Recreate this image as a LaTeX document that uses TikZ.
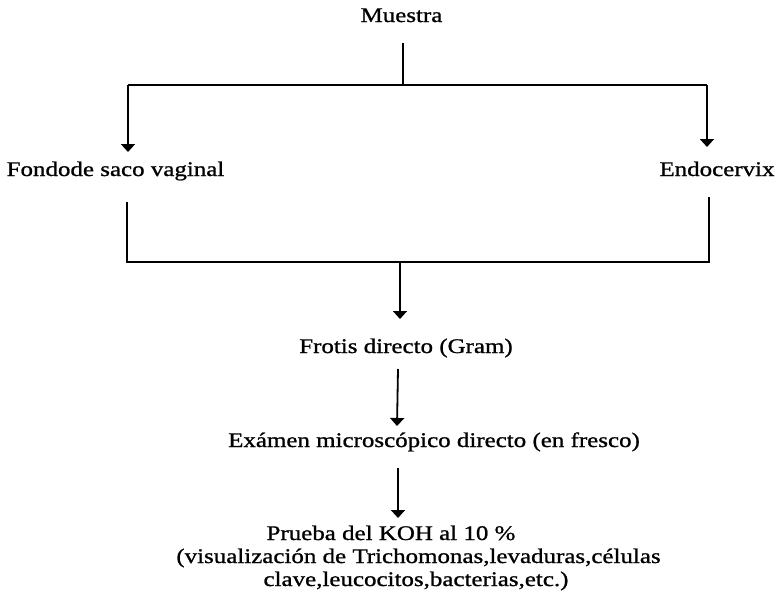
\documentclass[tikz,border=0pt]{standalone}
\usepackage{fontspec}
\setmainfont{Liberation Serif}[FakeStretch=1.2,FakeBold=1]
\usetikzlibrary{arrows.meta}
\begin{document}
\begin{tikzpicture}[x=1pt,y=-1pt,
  lbl/.style={anchor=base,inner sep=0pt,font=\fontsize{20.8}{25}\selectfont},
  conn/.style={line width=1.6pt},
  arr/.style={line width=1.8pt,-{Triangle[width=14pt,length=8pt]}}]
\useasboundingbox (0,0) rectangle (777,606);
% texts
\node[lbl] (muestra) at (401.5,22) {Muestra};
\node[lbl] (fondo) at (115.5,176) {Fondode saco vaginal};
\node[lbl] (endo) at (717,176) {Endocervix};
\node[lbl] (frotis) at (406,353) {Frotis directo (Gram)};
\node[lbl] (examen) at (434,447) {Exámen microscópico directo (en fresco)};
\node[lbl] (koh) at (391,540) {Prueba del KOH al 10 \%};
\node[lbl] (koh2) at (418.5,563) {(visualización de Trichomonas,levaduras,células};
\node[lbl] (koh3) at (416,586) {clave,leucocitos,bacterias,etc.)};
% junction coordinates
\coordinate (m0) at (403,43);
\coordinate (m1) at (403,85);
\coordinate (tl) at (128,85);
\coordinate (tr) at (707,85);
\coordinate (fa) at (128,152);
\coordinate (ea) at (707,147);
\coordinate (f0) at (127,202);
\coordinate (bl) at (127,262);
\coordinate (e0) at (709,197);
\coordinate (br) at (709,262);
\coordinate (b1) at (400,262);
\coordinate (ga) at (400,319);
\coordinate (g0) at (398,369);
\coordinate (xa) at (397,426);
\coordinate (x0) at (398,468);
\coordinate (ka) at (398,518);
% connectors
\draw[conn] (m0) -- (m1);
\draw[conn] (tl) -- (tr);
\draw[arr] (tl) -- (fa);
\draw[arr] (tr) -- (ea);
\draw[conn] (f0) -- (bl) -- (br) -- (e0);
\draw[arr] (b1) -- (ga);
\draw[arr] (g0) -- (xa);
\draw[arr] (x0) -- (ka);
\end{tikzpicture}
\end{document}
